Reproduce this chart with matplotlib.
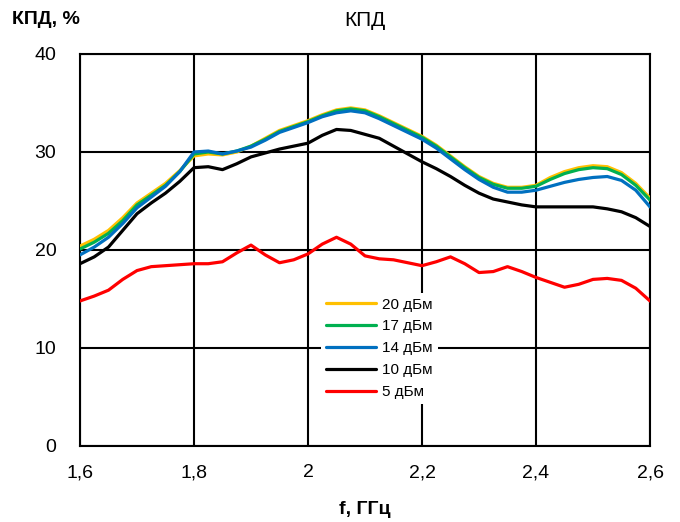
import matplotlib
matplotlib.use("Agg")
import matplotlib.pyplot as plt
from matplotlib import font_manager

names = {f.name for f in font_manager.fontManager.ttflist}
FONT = 'Liberation Sans Narrow' if 'Liberation Sans Narrow' in names else 'Liberation Sans'
plt.rcParams['font.family'] = [FONT, 'DejaVu Sans']

freq = [1.600, 1.625, 1.650, 1.675, 1.700, 1.725, 1.750, 1.775, 1.800, 1.825,
        1.850, 1.875, 1.900, 1.925, 1.950, 1.975, 2.000, 2.025, 2.050, 2.075,
        2.100, 2.125, 2.150, 2.175, 2.200, 2.225, 2.250, 2.275, 2.300, 2.325,
        2.350, 2.375, 2.400, 2.425, 2.450, 2.475, 2.500, 2.525, 2.550, 2.575, 2.600]

eff_20 = [20.4, 21.1, 22.0, 23.3, 24.8, 25.8, 26.8, 28.1, 29.6, 29.8,
          29.7, 30.0, 30.6, 31.4, 32.2, 32.7, 33.2, 33.8, 34.3, 34.5,
          34.3, 33.7, 33.0, 32.3, 31.6, 30.7, 29.6, 28.5, 27.5, 26.8,
          26.4, 26.4, 26.6, 27.4, 28.0, 28.4, 28.6, 28.5, 27.9, 26.8, 25.3]
eff_17 = [20.1, 20.8, 21.7, 23.0, 24.6, 25.6, 26.6, 28.0, 29.8, 30.0,
          29.8, 30.1, 30.6, 31.3, 32.1, 32.6, 33.1, 33.7, 34.2, 34.4,
          34.2, 33.6, 32.9, 32.2, 31.5, 30.6, 29.5, 28.4, 27.4, 26.7,
          26.3, 26.3, 26.5, 27.2, 27.8, 28.2, 28.4, 28.3, 27.7, 26.6, 25.1]
eff_14 = [19.5, 20.3, 21.3, 22.7, 24.3, 25.4, 26.5, 28.0, 30.0, 30.1,
          29.8, 30.1, 30.5, 31.2, 32.0, 32.5, 33.0, 33.6, 34.0, 34.2,
          34.0, 33.4, 32.7, 32.0, 31.3, 30.4, 29.3, 28.2, 27.2, 26.4,
          25.9, 25.9, 26.1, 26.5, 26.9, 27.2, 27.4, 27.5, 27.1, 26.1, 24.4]
eff_10 = [18.6, 19.3, 20.3, 22.0, 23.7, 24.8, 25.8, 27.0, 28.4, 28.5,
          28.2, 28.8, 29.5, 29.9, 30.3, 30.6, 30.9, 31.7, 32.3, 32.2,
          31.8, 31.4, 30.6, 29.8, 29.0, 28.3, 27.5, 26.6, 25.8, 25.2,
          24.9, 24.6, 24.4, 24.4, 24.4, 24.4, 24.4, 24.2, 23.9, 23.3, 22.4]
eff_5 = [14.8, 15.3, 15.9, 17.0, 17.9, 18.3, 18.4, 18.5, 18.6, 18.6,
         18.8, 19.7, 20.5, 19.5, 18.7, 19.0, 19.6, 20.6, 21.3, 20.6,
         19.4, 19.1, 19.0, 18.7, 18.4, 18.8, 19.3, 18.6, 17.7, 17.8,
         18.3, 17.8, 17.2, 16.7, 16.2, 16.5, 17.0, 17.1, 16.9, 16.1, 14.8]

labels = ['20 дБм', '17 дБм', '14 дБм', '10 дБм', '5 дБм']
colors = ['#FFC000', '#00B050', '#0070C0', '#000000', '#FF0000']
series = [eff_20, eff_17, eff_14, eff_10, eff_5]

xticks = [1.6, 1.8, 2.0, 2.2, 2.4, 2.6]
xticklabels = ['1,6', '1,8', '2', '2,2', '2,4', '2,6']
yticks = [0, 10, 20, 30, 40]

fig = plt.figure(figsize=(6.8, 5.22), dpi=100)
ax = fig.add_axes([80/680, 1-446/522, 570/680, 392/522])

for vals, c, lab in zip(series, colors, labels):
    ax.plot(freq, vals, color=c, lw=2.3, label=lab, solid_joinstyle='round',
            solid_capstyle='round', zorder=3)

ax.set_xlim(1.6, 2.6)
ax.set_ylim(0, 40)
ax.set_xticks(xticks)
ax.set_xticklabels(xticklabels)
ax.set_yticks(yticks)
ax.grid(True, color='black', lw=1.5)
ax.set_axisbelow(True)
for s in ax.spines.values():
    s.set_color('black')
    s.set_linewidth(1.5)
ax.tick_params(axis='x', length=0, labelsize=14, pad=13)
ax.tick_params(axis='y', length=0, labelsize=14, pad=17)

ax.set_title('КПД', fontsize=15, pad=20)
fig.text(12/680, 1-20/522, 'КПД, %', fontsize=14, fontweight='bold', va='center', ha='left')
ax.set_xlabel('f, ГГц', fontsize=14, fontweight='bold', labelpad=14)

leg = ax.legend(loc='upper left', bbox_to_anchor=(0.41, 0.41), frameon=True,
                fontsize=11, handlelength=3.3, labelspacing=0.52, borderpad=0.3,
                handletextpad=0.4, fancybox=False)
leg.get_frame().set_edgecolor('none')
leg.get_frame().set_facecolor('white')
leg.get_frame().set_alpha(1)

fig.savefig('out.png', dpi=100)
